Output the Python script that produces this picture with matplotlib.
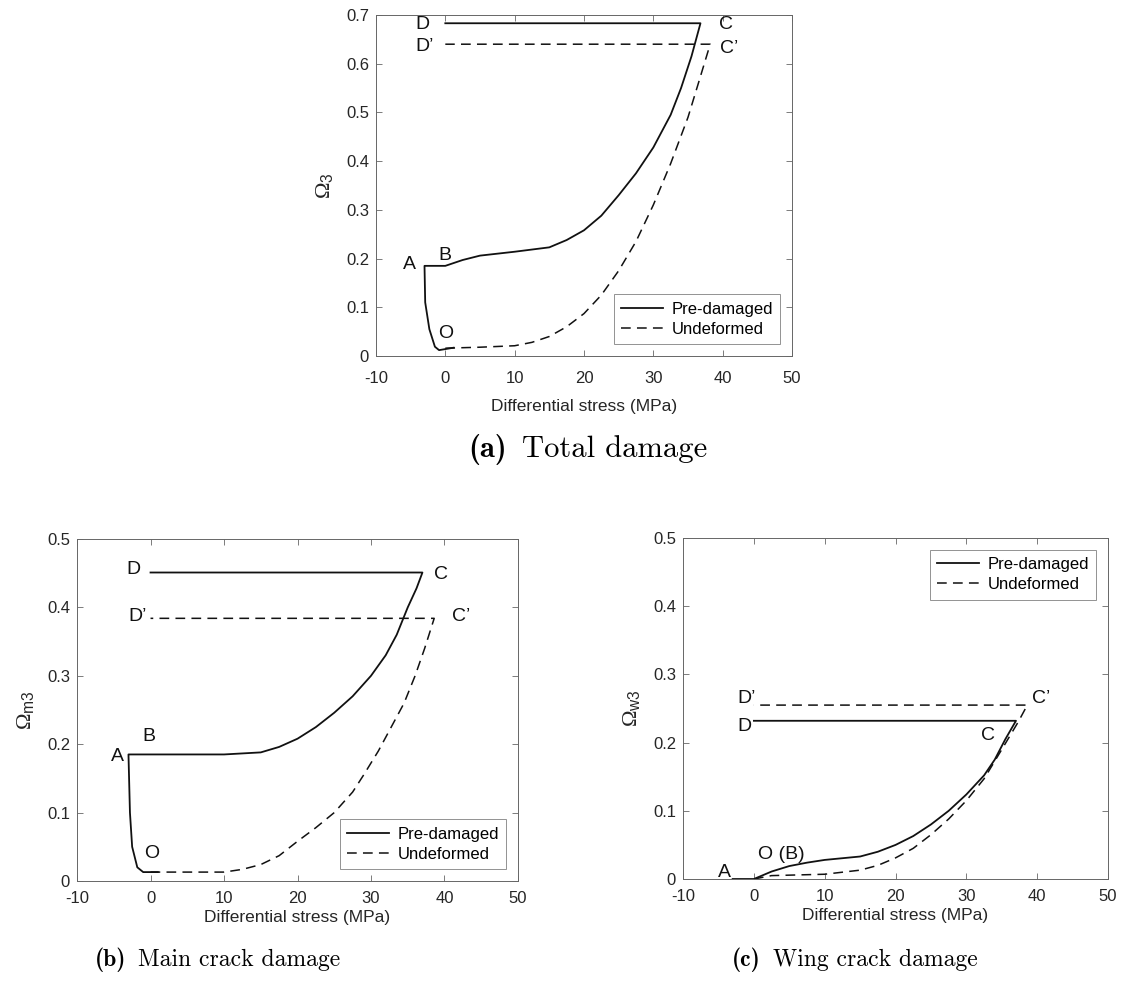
import matplotlib

matplotlib.use("Agg")
import matplotlib.pyplot as plt

plt.rcParams["font.family"] = ["Liberation Sans", "DejaVu Sans"]
plt.rcParams["mathtext.fontset"] = "custom"
plt.rcParams["mathtext.rm"] = "Liberation Serif"
plt.rcParams["mathtext.it"] = "Liberation Serif:italic"
plt.rcParams["mathtext.sf"] = "Liberation Sans"
plt.rcParams["axes.unicode_minus"] = False
plt.rcParams["lines.scale_dashes"] = False

# (a) total damage
a_pre_x = [1.2, -0.9, -1.5, -2.3, -2.9, -3.0, 0.0, 2.5, 5.0, 10.0, 15.0, 17.5, 20.0, 22.5,
           25.0, 27.5, 30.0, 32.5, 34.0, 35.5, 36.8, 0.0]
a_pre_y = [0.017, 0.012, 0.019, 0.055, 0.11, 0.185, 0.185, 0.197, 0.206, 0.214, 0.223, 0.238,
           0.258, 0.288, 0.33, 0.375, 0.428, 0.495, 0.55, 0.615, 0.683, 0.683]
a_und_x = [0.0, 5.0, 10.0, 12.5, 15.0, 17.5, 20.0, 22.5, 25.0, 27.5, 30.0, 32.5, 35.0, 36.5,
           38.2, 0.0]
a_und_y = [0.016, 0.018, 0.021, 0.028, 0.04, 0.06, 0.087, 0.125, 0.175, 0.235, 0.31, 0.395,
           0.49, 0.56, 0.64, 0.64]
a_marks = [("D", -3.3, 0.68), ("C", 40.5, 0.68), ("D\u2019", -3.0, 0.636), ("C\u2019", 41.0, 0.632),
           ("A", -5.1, 0.188), ("B", 0.0, 0.207), ("O", 0.0, 0.047)]

# (b) main crack damage
b_pre_x = [1.0, -1.0, -1.8, -2.5, -2.8, -3.0, 0.0, 10.0, 15.0, 17.5, 20.0, 22.5, 25.0, 27.5,
           30.0, 32.0, 33.5, 35.0, 36.2, 37.0, 0.0]
b_pre_y = [0.013, 0.013, 0.02, 0.05, 0.1, 0.185, 0.185, 0.185, 0.188, 0.196, 0.208, 0.225,
           0.246, 0.27, 0.3, 0.33, 0.36, 0.4, 0.428, 0.451, 0.451]
b_und_x = [0.0, 10.0, 12.5, 15.0, 17.5, 20.0, 22.5, 25.0, 27.5, 29.0, 31.0, 33.0, 34.5, 36.0,
           37.3, 38.6, 0.0]
b_und_y = [0.013, 0.013, 0.017, 0.024, 0.037, 0.058, 0.078, 0.1, 0.13, 0.155, 0.19, 0.23,
           0.26, 0.3, 0.34, 0.384, 0.384]
b_marks = [("D", -2.3, 0.456), ("C", 39.5, 0.448), ("D\u2019", -1.8, 0.387), ("C\u2019", 42.2, 0.386),
           ("A", -4.5, 0.182), ("B", -0.2, 0.211), ("O", 0.1, 0.040)]

# (c) wing crack damage
c_pre_x = [-3.0, 0.0, 2.5, 5.0, 7.5, 10.0, 15.0, 17.5, 20.0, 22.5, 25.0, 27.5, 30.0, 32.5,
           34.0, 35.5, 37.0, 0.0]
c_pre_y = [0.0, 0.0, 0.011, 0.019, 0.024, 0.028, 0.033, 0.04, 0.05, 0.063, 0.08, 0.1, 0.124,
           0.152, 0.175, 0.205, 0.232, 0.232]
c_und_x = [0.0, 2.5, 10.0, 15.0, 17.5, 20.0, 22.5, 25.0, 27.5, 30.0, 32.5, 35.0, 37.3, 38.6, 0.0]
c_und_y = [0.0, 0.005, 0.007, 0.013, 0.02, 0.031, 0.045, 0.065, 0.088, 0.115, 0.147, 0.19,
           0.23, 0.255, 0.255]
c_marks = [("D\u2019", -1.0, 0.265), ("D", -1.4, 0.223), ("C\u2019", 40.5, 0.264), ("C", 33.1, 0.21),
           ("A", -4.1, 0.010), ("O (B)", 3.9, 0.036)]

panels = [
    dict(rect=[0.3275, 0.6386, 0.3624, 0.3462], ylim=0.7, ylabel=r"$\Omega_{\mathsf{3}}$",
         pre=(a_pre_x, a_pre_y), und=(a_und_x, a_und_y), marks=a_marks, loc="lower right",
         xpad=11, labelpad=9),
    dict(rect=[0.0671, 0.1056, 0.3841, 0.3472], ylim=0.5, ylabel=r"$\Omega_{\mathsf{m3}}$",
         pre=(b_pre_x, b_pre_y), und=(b_und_x, b_und_y), marks=b_marks, loc="lower right",
         xpad=7, labelpad=3),
    dict(rect=[0.595, 0.1076, 0.3702, 0.3462], ylim=0.5, ylabel=r"$\Omega_{\mathsf{w3}}$",
         pre=(c_pre_x, c_pre_y), und=(c_und_x, c_und_y), marks=c_marks, loc="upper right",
         xpad=7, labelpad=3),
]

ink = "#262626"
frame = "#666666"

fig = plt.figure(figsize=(11.48, 9.85), dpi=100)
for p in panels:
    ax = fig.add_axes(p["rect"])
    ax.plot(*p["pre"], color="#111111", lw=1.3, label="Pre-damaged")
    ax.plot(*p["und"], color="#111111", lw=1.1, dashes=(7, 4.5), label="Undeformed")
    for text, x, y in p["marks"]:
        ax.text(x, y, text, fontsize=14, color="#111111", ha="center", va="center")
    ax.set_xlim(-10, 50)
    ax.set_ylim(0, p["ylim"])
    n = int(round(p["ylim"] * 10))
    ax.set_xticks(range(-10, 51, 10))
    ax.set_yticks([i / 10 for i in range(n + 1)])
    ax.set_yticklabels(["0"] + [f"{i / 10:.1f}" for i in range(1, n + 1)])
    ax.tick_params(direction="in", length=4, width=0.6, top=True, right=True,
                   labelsize=12, colors=frame, labelcolor=ink)
    ax.tick_params(axis="x", pad=p["xpad"])
    ax.tick_params(axis="y", pad=5)
    for spine in ax.spines.values():
        spine.set_color(frame)
        spine.set_linewidth(0.7)
    ax.set_xlabel("Differential stress (MPa)", fontsize=12.5, color=ink, labelpad=p["labelpad"])
    ax.set_ylabel(p["ylabel"], fontsize=16, color=ink, labelpad=8)
    leg = ax.legend(loc=p["loc"], fontsize=12, frameon=True, fancybox=False,
                    handlelength=2.5, handletextpad=0.5, borderpad=0.45,
                    borderaxespad=0.7, labelspacing=0.3)
    leg.get_frame().set_edgecolor("#777777")
    leg.get_frame().set_linewidth(0.7)

captions = [("(a)", "Total damage", 507, 522, 457, 22),
            ("(b)", "Main crack damage", 126, 138, 966, 17),
            ("(c)", "Wing crack damage", 761, 773, 966, 17)]
for tag, title, xt, xs, yb, size in captions:
    fig.text(xt / 1148, 1 - yb / 985, tag, fontfamily="cmb10", fontsize=size,
             ha="right", va="baseline")
    fig.text(xs / 1148, 1 - yb / 985, title, fontfamily="cmr10", fontsize=size,
             ha="left", va="baseline")

fig.savefig("out.png", dpi=100)
